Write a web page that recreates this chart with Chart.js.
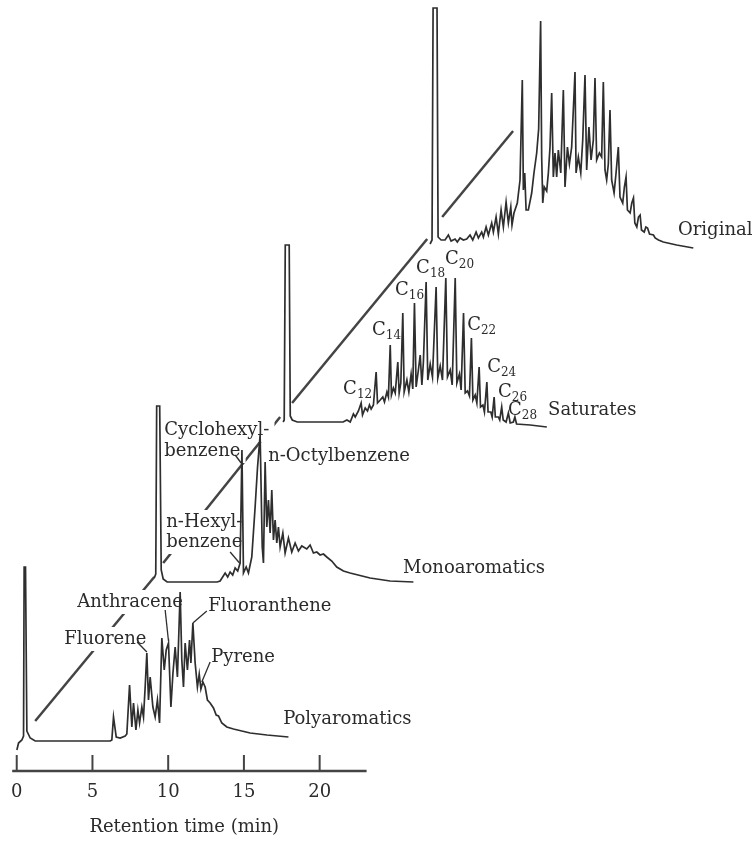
<!DOCTYPE html>
<html>
<head>
<meta charset="utf-8">
<script src="https://cdn.jsdelivr.net/npm/chart.js@4.4.1/dist/chart.umd.min.js"></script>
<style>
  html, body { margin: 0; padding: 0; background: #fff; }
  #grafica { display: block; }
</style>
</head>
<body>
<canvas id="grafica" width="756" height="857"></canvas>
<script>
// Retention time (min) and detector response of each fraction
const polyTime = [0.01,0.12,0.34,0.45,0.49,0.58,0.67,0.89,1.22,6.17,6.28,6.39,6.57,6.83,7.16,7.27,7.45,7.60,7.71,7.87,8.00,8.11,8.26,8.37,8.48,8.59,8.70,8.81,8.99,9.14,9.29,9.43,9.58,9.74,9.87,10.02,10.18,10.31,10.46,10.61,10.79,10.90,11.01,11.12,11.27,11.41,11.50,11.63,11.78,11.93,12.05,12.16,12.29,12.44,12.59,12.77,12.99,13.17,13.32,13.54,13.87,14.31,15.41,16.52,17.94];
const polyResp = [-9,-2,1,5,174,174,10,3,0,0,1,24,4,3,5,7,56,14,38,11,31,18,34,24,54,88,41,64,34,24,41,18,103,71,91,98,34,67,94,64,149,81,54,98,71,101,78,118,78,54,67,52,59,54,41,38,33,26,25,18,14,12,8,6,4];

const monoTime = [0.29,0.39,0.45,0.65,0.75,0.88,1.14,4.44,4.64,4.97,5.14,5.30,5.47,5.63,5.80,5.96,6.08,6.18,6.36,6.51,6.73,6.95,7.11,7.28,7.42,7.50,7.61,7.72,7.83,7.94,8.05,8.16,8.27,8.38,8.49,8.60,8.78,8.93,9.15,9.37,9.59,9.81,10.03,10.36,10.58,10.80,11.02,11.24,11.46,11.68,12.01,12.34,12.78,13.22,14.54,15.86,17.40];
const monoResp = [4,8,176,176,12,3,0,0,1,9,5,10,7,14,11,19,132,9,15,9,25,75,115,147,35,19,120,55,82,49,92,42,62,39,55,35,49,29,44,30,39,31,36,33,37,29,30,27,28,25,21,15,11,9,4,1,0];

const satTime = [0.25,0.32,0.39,0.65,0.72,0.85,1.18,4.21,4.46,4.68,4.89,5.01,5.22,5.40,5.49,5.67,5.82,5.95,6.06,6.21,6.39,6.48,6.66,6.83,6.94,7.10,7.20,7.32,7.40,7.53,7.65,7.82,7.91,8.02,8.15,8.24,8.42,8.55,8.70,8.81,8.92,9.03,9.18,9.30,9.41,9.51,9.69,9.80,9.96,10.11,10.35,10.46,10.62,10.77,10.99,11.10,11.28,11.41,11.61,11.72,11.89,12.00,12.16,12.27,12.42,12.55,12.68,12.78,12.93,13.04,13.19,13.28,13.44,13.54,13.70,13.78,13.96,14.05,14.18,14.26,14.46,14.55,14.68,14.78,14.97,15.12,15.24,15.45,15.55,15.66,16.56,17.66];
const satResp = [0,2,177,177,6,2,0,0,2,0,8,5,11,19,7,14,11,17,13,17,50,19,22,25,20,30,25,77,27,34,29,60,29,39,109,30,42,30,48,33,119,35,52,67,37,60,140,42,58,45,135,44,56,42,144,45,52,37,144,39,48,32,109,29,31,26,84,22,27,19,55,15,17,10,40,10,10,5,25,5,5,2,15,2,0,9,-1,0,5,-2,-3,-5];

const origTime = [0.22,0.35,0.42,0.68,0.75,0.95,1.21,1.43,1.61,1.87,2.02,2.20,2.42,2.64,2.86,3.04,3.26,3.41,3.63,3.74,3.92,4.07,4.29,4.40,4.58,4.73,4.91,5.06,5.24,5.39,5.55,5.63,5.76,5.98,6.16,6.31,6.38,6.47,6.56,6.71,6.93,7.08,7.26,7.39,7.52,7.59,7.66,7.76,7.92,8.03,8.14,8.25,8.36,8.47,8.58,8.69,8.85,9.02,9.13,9.29,9.42,9.57,9.79,9.86,10.01,10.17,10.30,10.45,10.56,10.71,10.85,11.00,11.11,11.22,11.40,11.55,11.66,11.77,11.88,11.99,12.10,12.21,12.37,12.50,12.65,12.76,12.94,13.05,13.16,13.25,13.43,13.54,13.65,13.74,13.87,13.98,14.09,14.18,14.36,14.47,14.58,14.71,14.97,15.08,15.30,15.62,16.50,17.60];
const origResp = [-5,-1,231,231,2,-1,-1,4,-2,0,-3,1,-1,0,4,-1,7,1,7,2,12,4,16,7,22,5,29,12,37,16,32,14,26,36,59,159,49,66,29,29,46,66,86,110,218,82,36,52,48,66,92,146,62,86,62,89,66,149,52,92,75,92,167,66,82,66,99,164,69,112,79,99,161,79,86,82,157,69,59,75,129,59,46,66,92,42,36,52,62,29,26,36,41,16,12,22,24,9,7,12,11,5,4,1,-1,-3,-6,-9];

const fractionNames = ['Polyaromatics', 'Monoaromatics', 'Saturates', 'Original'];
const xTicks = [0, 5, 10, 15, 20];

// guide lines drawn between the solvent peaks (axis minutes / response)
const guideStartT = [1.22, 9.67, 18.18, 28.09];
const guideStartR = [50, 208, 368, 554];
const guideEndT = [9.08, 17.39, 27.10, 32.77];
const guideEndR = [194, 354, 532, 640];

// compound names and their leaders
const compoundNames = ['Fluorene', 'Anthracene', 'Fluoranthene', 'Pyrene', 'Cyclohexyl-', 'benzene', 'n-Hexyl-', 'benzene', 'n-Octylbenzene'];
const compoundT = [3.14, 3.99, 12.64, 12.84, 9.74, 9.74, 9.87, 9.87, 16.60];
const compoundR = [132, 169, 165, 114, 341, 320, 249, 229, 315];
const leaderStartT = [7.95, 9.80, 12.55, 12.77, 14.42, 14.09];
const leaderStartR = [129, 161, 160, 109, 316, 219];
const leaderEndT = [8.59, 10.02, 11.63, 12.22, 14.82, 14.71];
const leaderEndR = [119, 130, 148, 89, 308, 208];

// n-alkane carbon numbers on the saturates trace
const carbonNums = [12, 14, 16, 18, 20, 22, 24, 26, 28];
const carbonT = [21.55, 23.46, 24.98, 26.37, 28.28, 29.74, 31.06, 31.78, 32.44];
const carbonR = [382, 441, 481, 503, 512, 446, 404, 379, 361];

// fraction name anchors
const fractionT = [17.59, 25.51, 35.08, 43.66];
const fractionR = [52, 203, 361, 541];

// each trace is set back along the diagonal (minutes, response)
const shiftT = [0, 8.79, 17.34, 27.07];
const shiftR = [30, 189, 349, 532];

const ink = '#2e2e2e';
const serif = '"DejaVu Serif", "Liberation Serif", serif';

const traces = [[polyTime, polyResp], [monoTime, monoResp], [satTime, satResp], [origTime, origResp]];

const datasets = [];
for (let i = 0; i < guideStartT.length; i++) {
    datasets.push({
        role: 'guide',
        data: [{x: guideStartT[i], y: guideStartR[i]}, {x: guideEndT[i], y: guideEndR[i]}],
        borderColor: '#444',
        borderWidth: 2.5,
        order: 2
    });
}
traces.forEach(function (tr, i) {
    datasets.push({
        label: fractionNames[i],
        data: tr[0].map(function (t, k) { return {x: t + shiftT[i], y: tr[1][k] + shiftR[i]}; }),
        borderColor: ink,
        borderWidth: 1.7,
        order: 0
    });
});
for (let i = 0; i < leaderStartT.length; i++) {
    datasets.push({
        role: 'leader',
        data: [{x: leaderStartT[i], y: leaderStartR[i]}, {x: leaderEndT[i], y: leaderEndR[i]}],
        borderColor: ink,
        borderWidth: 1.3,
        order: 1
    });
}

const figura = {
    id: 'figura',
    afterDatasetDraw(chart, args) {
        if (chart.data.datasets[args.index].role !== 'guide') return;
        // the names sit on blank paper, so the guide lines break under them
        const ctx = chart.ctx, sx = chart.scales.x, sy = chart.scales.y;
        ctx.save();
        ctx.font = '18px ' + serif;
        ctx.fillStyle = '#fff';
        compoundNames.forEach(function (n, i) {
            const x = sx.getPixelForValue(compoundT[i]);
            const y = sy.getPixelForValue(compoundR[i]);
            ctx.fillRect(x - 5, y - 12, ctx.measureText(n).width + 10, 24);
        });
        ctx.restore();
    },
    afterDatasetsDraw(chart) {
        const ctx = chart.ctx, sx = chart.scales.x, sy = chart.scales.y;
        const base = chart.chartArea.bottom;
        ctx.save();
        ctx.strokeStyle = '#444';
        ctx.lineWidth = 2.5;
        ctx.beginPath();
        ctx.moveTo(sx.getPixelForValue(-0.3), base);
        ctx.lineTo(sx.getPixelForValue(23.1), base);
        ctx.stroke();
        ctx.lineWidth = 2;
        xTicks.forEach(function (v) {
            const x = sx.getPixelForValue(v);
            ctx.beginPath();
            ctx.moveTo(x, base);
            ctx.lineTo(x, base - 16);
            ctx.stroke();
        });

        ctx.fillStyle = '#2b2b2b';
        ctx.textBaseline = 'middle';
        ctx.textAlign = 'left';
        ctx.font = '18px ' + serif;
        compoundNames.forEach(function (n, i) {
            ctx.fillText(n, sx.getPixelForValue(compoundT[i]), sy.getPixelForValue(compoundR[i]));
        });
        fractionNames.forEach(function (n, i) {
            ctx.fillText(n, sx.getPixelForValue(fractionT[i]), sy.getPixelForValue(fractionR[i]));
        });
        carbonNums.forEach(function (c, i) {
            const x = sx.getPixelForValue(carbonT[i]);
            const y = sy.getPixelForValue(carbonR[i]);
            ctx.font = '18px ' + serif;
            ctx.fillText('C', x, y);
            const w = ctx.measureText('C').width;
            ctx.font = '12px ' + serif;
            ctx.fillText(String(c), x + w, y + 6);
        });

        ctx.font = '18px ' + serif;
        ctx.textAlign = 'center';
        ctx.fillText('Retention time (min)', sx.getPixelForValue(11.06), 827);
        ctx.restore();
    }
};

new Chart(document.getElementById('grafica'), {
    type: 'line',
    data: { datasets: datasets },
    options: {
        responsive: false,
        animation: false,
        devicePixelRatio: 1,
        layout: { padding: 0 },
        elements: {
            point: { radius: 0 },
            line: { tension: 0, fill: false }
        },
        plugins: {
            legend: { display: false },
            tooltip: { enabled: false }
        },
        scales: {
            x: {
                type: 'linear',
                min: -1.089,
                max: 48.81,
                afterBuildTicks: function (s) { s.ticks = xTicks.map(function (v) { return {value: v}; }); },
                afterFit: function (s) { s.height = 86; },
                grid: { display: false, drawTicks: false },
                border: { display: false },
                ticks: {
                    padding: 11,
                    color: '#2b2b2b',
                    font: { family: serif, size: 18 }
                }
            },
            y: {
                type: 'linear',
                display: false,
                min: 0,
                max: 771
            }
        }
    },
    plugins: [figura]
});
</script>
</body>
</html>
